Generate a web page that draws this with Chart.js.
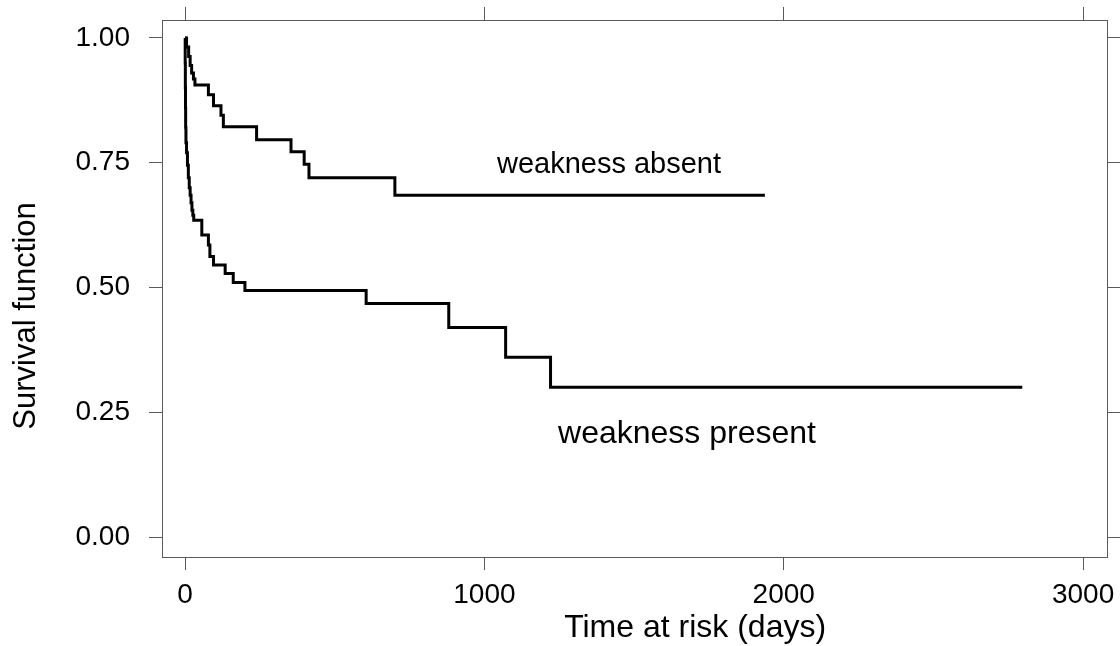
<!DOCTYPE html>
<html>
<head>
<meta charset="utf-8">
<script src="https://cdn.jsdelivr.net/npm/chart.js@4.4.1/dist/chart.umd.min.js"></script>
<style>
  html, body { margin: 0; padding: 0; background: #fff; }
  #wrap { width: 1120px; height: 646px; position: relative; }
</style>
</head>
<body>
<div id="wrap"><canvas id="km"></canvas></div>
<script>
// Kaplan-Meier estimates, time in days
const absentTime = [0, 5, 12, 17, 22, 28, 33, 78, 95, 120, 128, 239, 354, 398, 414, 701, 1937];
const absentSurv = [1.0, 0.982, 0.963, 0.945, 0.93, 0.918, 0.906, 0.886, 0.864, 0.845, 0.822, 0.796, 0.772, 0.747, 0.720, 0.685, 0.685];

const presentTime = [0, 0.5, 1, 1.5, 2, 3, 5, 8, 11, 14, 17, 20, 23, 26, 29, 56, 78, 83, 95, 134, 161, 200, 605, 881, 1071, 1221, 2797];
const presentSurv = [1.0, 0.95, 0.9, 0.86, 0.82, 0.79, 0.77, 0.745, 0.72, 0.70, 0.685, 0.67, 0.655, 0.645, 0.635, 0.605, 0.585, 0.562, 0.545, 0.528, 0.510, 0.494, 0.468, 0.420, 0.360, 0.300, 0.300];

const xTicks = [0, 1000, 2000, 3000];
const yTicks = [0, 0.25, 0.5, 0.75, 1.0];

// curve labels, anchored in data units (left edge, baseline)
const curveLabels = [
  { text: 'weakness absent', t: 1042, s: 0.729, size: 29 },
  { text: 'weakness present', t: 1246, s: 0.188, size: 32 }
];

Chart.defaults.font.family = "'Liberation Sans', Arial, sans-serif";
Chart.defaults.color = '#000';

const toPoints = (ts, ss) => ts.map((t, i) => ({ x: t, y: ss[i] }));

const axisGray = '#5a5a5a';

// ticks only, drawn outside the box on all four sides
function frameAxis(position, extra) {
  return Object.assign({
    position: position,
    grid: { drawOnChartArea: false, drawTicks: true, tickLength: 13, color: axisGray, lineWidth: 1 },
    border: { display: true, color: axisGray, width: 1 }
  }, extra);
}

// keep label overflow from pushing the box inwards
function noOverflow(s) {
  s.paddingTop = 0; s.paddingBottom = 0; s.paddingLeft = 0; s.paddingRight = 0;
}

const titlesPlugin = {
  id: 'titles',
  afterDraw(chart) {
    const { ctx, scales } = chart;
    const x = scales.x, y = scales.y;
    ctx.save();
    ctx.fillStyle = '#000';
    // curve labels
    curveLabels.forEach(l => {
      ctx.font = l.size + "px 'Liberation Sans', Arial, sans-serif";
      ctx.textAlign = 'left';
      ctx.textBaseline = 'alphabetic';
      ctx.fillText(l.text, x.getPixelForValue(l.t), y.getPixelForValue(l.s));
    });
    // axis titles
    ctx.font = "32px 'Liberation Sans', Arial, sans-serif";
    ctx.textAlign = 'center';
    ctx.fillText('Time at risk (days)', x.getPixelForValue(1704), 637);
    ctx.translate(35, y.getPixelForValue(0.443));
    ctx.rotate(-Math.PI / 2);
    ctx.font = "31px 'Liberation Sans', Arial, sans-serif";
    ctx.fillText('Survival function', 0, 0);
    ctx.restore();
  }
};

const lineStyle = {
  showLine: true,
  stepped: 'before',
  borderColor: '#000',
  borderWidth: 3,
  pointRadius: 0,
  fill: false
};

new Chart(document.getElementById('km'), {
  type: 'scatter',
  data: {
    datasets: [
      Object.assign({ label: 'weakness absent', data: toPoints(absentTime, absentSurv) }, lineStyle),
      Object.assign({ label: 'weakness present', data: toPoints(presentTime, presentSurv) }, lineStyle)
    ]
  },
  options: {
    responsive: true,
    maintainAspectRatio: false,
    animation: false,
    layout: { padding: { top: 20, right: 13, left: 0, bottom: 0 } },
    plugins: { legend: { display: false }, tooltip: { enabled: false } },
    scales: {
      x: frameAxis('bottom', {
        type: 'linear', min: -77, max: 3080,
        afterBuildTicks: s => { s.ticks = xTicks.map(v => ({ value: v })); },
        afterFit: s => { s.height = 89; noOverflow(s); },
        ticks: { font: { size: 28 }, padding: 8, maxRotation: 0, callback: v => String(v) }
      }),
      x2: frameAxis('top', {
        type: 'linear', min: -77, max: 3080,
        afterBuildTicks: s => { s.ticks = xTicks.map(v => ({ value: v })); },
        afterFit: s => { s.height = 0; noOverflow(s); },
        ticks: { display: false }
      }),
      y: frameAxis('left', {
        type: 'linear', min: -0.04, max: 1.036,
        afterBuildTicks: s => { s.ticks = yTicks.map(v => ({ value: v })); },
        afterFit: s => { s.width = 162; noOverflow(s); },
        ticks: { font: { size: 28 }, padding: 19, callback: v => v.toFixed(2) }
      }),
      y2: frameAxis('right', {
        type: 'linear', min: -0.04, max: 1.036,
        afterBuildTicks: s => { s.ticks = yTicks.map(v => ({ value: v })); },
        afterFit: s => { s.width = 0; noOverflow(s); },
        ticks: { display: false }
      })
    }
  },
  plugins: [titlesPlugin]
});
</script>
</body>
</html>
